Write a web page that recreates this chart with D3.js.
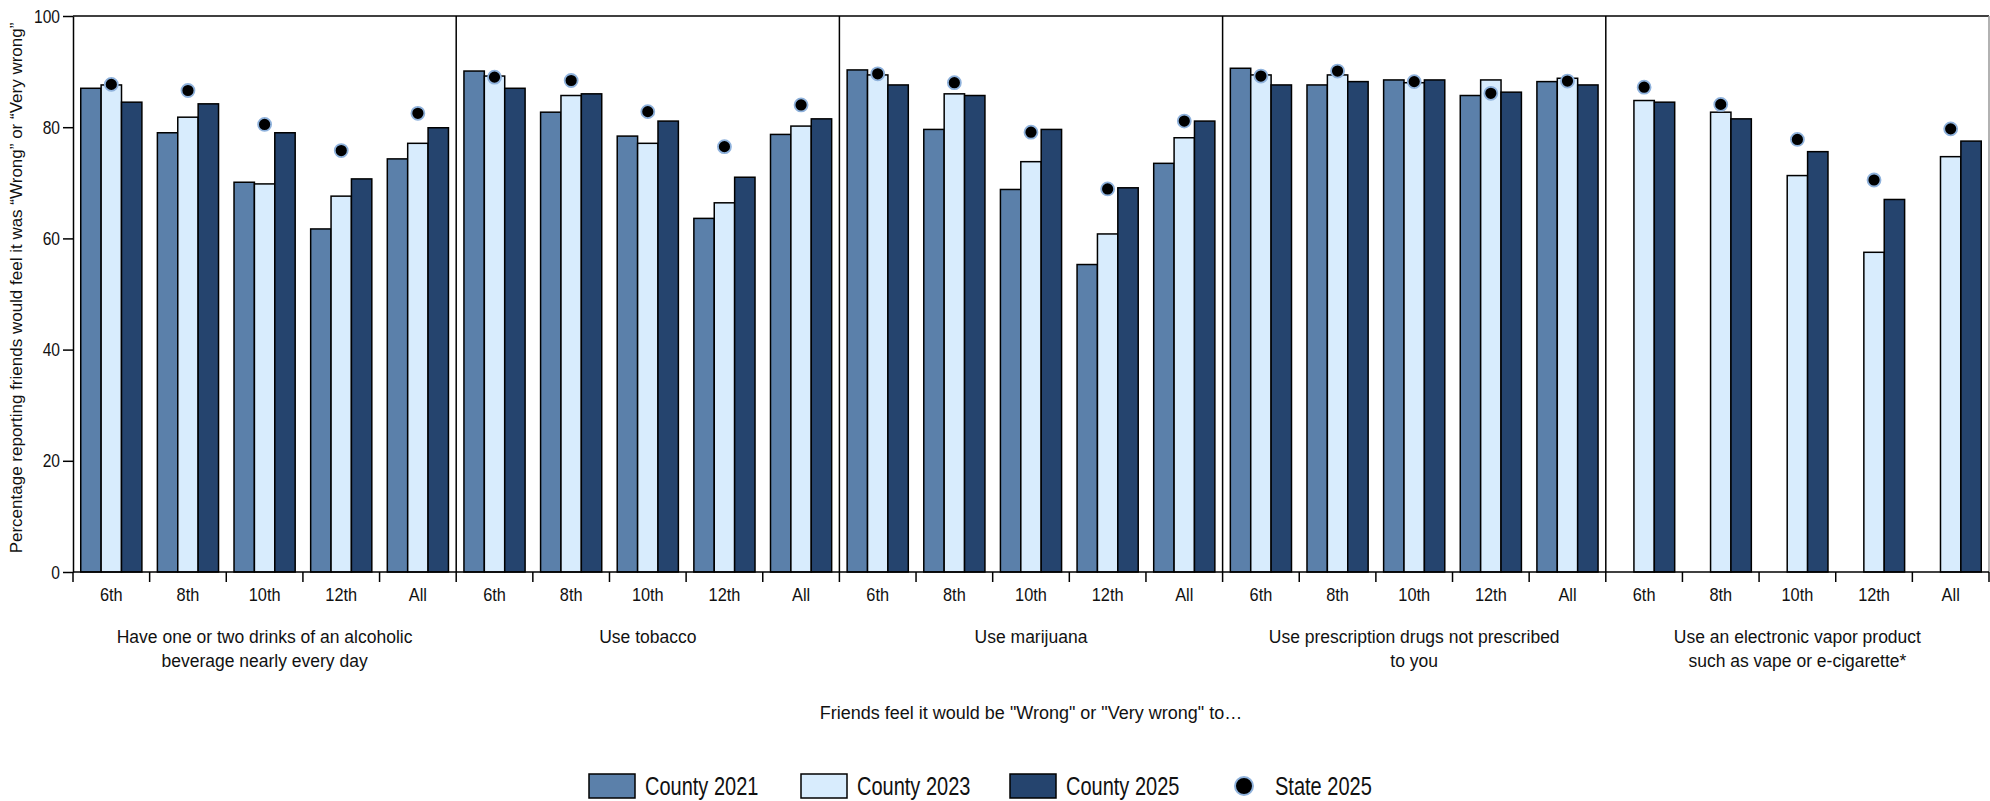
<!DOCTYPE html>
<html>
<head>
<meta charset="utf-8">
<script src="https://cdn.jsdelivr.net/npm/d3@7"></script>
<style>
  body { margin: 0; background: #fff; }
  svg text { font-family: "Liberation Sans", Arial, sans-serif; fill: #111; }
</style>
</head>
<body>
<script>
const topics = [
    ["Have one or two drinks of an alcoholic", "beverage nearly every day"],
    ["Use tobacco"],
    ["Use marijuana"],
    ["Use prescription drugs not prescribed", "to you"],
    ["Use an electronic vapor product", "such as vape or e-cigarette*"]
];
const grades = ["6th", "8th", "10th", "12th", "All"];
const series = ["County 2021", "County 2023", "County 2025"];
const colors = ["#5b80aa", "#d8ecfd", "#25446e"];

// one row per topic, one value per grade
const county2021 = [
    [87.0, 79.0, 70.1, 61.7, 74.3],
    [90.1, 82.7, 78.4, 63.6, 78.7],
    [90.3, 79.6, 68.8, 55.3, 73.5],
    [90.6, 87.6, 88.5, 85.7, 88.2],
    [null, null, null, null, null]
];
const county2023 = [
    [87.6, 81.8, 69.8, 67.6, 77.1],
    [89.2, 85.7, 77.1, 66.4, 80.2],
    [89.4, 86.0, 73.8, 60.8, 78.1],
    [89.4, 89.4, 88.0, 88.5, 88.8],
    [84.8, 82.7, 71.3, 57.5, 74.7]
];
const county2025 = [
    [84.5, 84.2, 79.0, 70.7, 79.9],
    [87.0, 86.0, 81.1, 71.0, 81.5],
    [87.6, 85.7, 79.6, 69.1, 81.1],
    [87.6, 88.2, 88.5, 86.3, 87.6],
    [84.5, 81.5, 75.6, 67.0, 77.5]
];
const state2025 = [
    [87.7, 86.6, 80.5, 75.8, 82.5],
    [89.0, 88.4, 82.8, 76.5, 84.0],
    [89.6, 88.0, 79.1, 68.9, 81.1],
    [89.2, 90.1, 88.2, 86.1, 88.3],
    [87.2, 84.1, 77.8, 70.5, 79.7]
];
const yTicks = [0, 20, 40, 60, 80, 100];

const width = 1990, height = 801;
const plotLeft = 73, plotRight = 1989, plotTop = 16, plotBottom = 572;

// the original uses a condensed face, so squeeze text a bit
function squeeze(sel, k) {
    sel.each(function() {
        const len = this.getComputedTextLength();
        d3.select(this).attr("textLength", len * k).attr("lengthAdjust", "spacingAndGlyphs");
    });
}

const svg = d3.select("body").append("svg")
    .attr("width", width)
    .attr("height", height);

const x0 = d3.scaleBand().domain(d3.range(topics.length)).range([plotLeft, plotRight]);
const x1 = d3.scaleBand().domain(grades).range([0, x0.bandwidth()]);
const x2 = d3.scaleBand().domain(series).range([0, x1.bandwidth()]).paddingOuter(0.38);
const y = d3.scaleLinear().domain([0, 100]).range([plotBottom, plotTop]);

const rows = [];
topics.forEach(function(t, i) {
    grades.forEach(function(g, j) {
        rows.push({
            topic: i, grade: g,
            vals: [county2021[i][j], county2023[i][j], county2025[i][j]],
            state: state2025[i][j]
        });
    });
});

// bars
const grp = svg.append("g").selectAll("g")
    .data(rows).enter().append("g")
    .attr("transform", function(d) { return "translate(" + (x0(d.topic) + x1(d.grade)) + ",0)"; });

grp.selectAll("rect")
    .data(function(d) { return d.vals.map(function(v, k) { return {s: series[k], v: v, k: k}; }).filter(function(e) { return e.v != null; }); })
    .enter().append("rect")
    .attr("x", function(e) { return x2(e.s); })
    .attr("y", function(e) { return y(e.v); })
    .attr("width", x2.bandwidth())
    .attr("height", function(e) { return y(0) - y(e.v); })
    .attr("fill", function(e) { return colors[e.k]; })
    .attr("stroke", "#000")
    .attr("stroke-width", 1.5);

// state dots, over the middle bar
grp.append("circle")
    .attr("cx", x2("County 2023") + x2.bandwidth() / 2)
    .attr("cy", function(d) { return y(d.state); })
    .attr("r", 6.5)
    .attr("fill", "#000")
    .attr("stroke", "#8fb2dc")
    .attr("stroke-width", 1.8);

// frame: top line and panel dividers
svg.append("line")
    .attr("x1", plotLeft).attr("x2", plotRight)
    .attr("y1", plotTop).attr("y2", plotTop)
    .attr("stroke", "#000").attr("stroke-width", 1.5);

svg.append("g").selectAll("line")
    .data(d3.range(1, topics.length + 1))
    .enter().append("line")
    .attr("x1", function(i) { return i < topics.length ? x0(i) : plotRight; })
    .attr("x2", function(i) { return i < topics.length ? x0(i) : plotRight; })
    .attr("y1", plotTop).attr("y2", plotBottom)
    .attr("stroke", function(i) { return i < topics.length ? "#000" : "#999"; })
    .attr("stroke-width", 1.5);

// y axis
const yAxis = svg.append("g")
    .attr("transform", "translate(" + plotLeft + ",0)")
    .call(d3.axisLeft(y).tickValues(yTicks).tickSize(10).tickSizeOuter(0).tickPadding(3));
yAxis.selectAll("text").style("font-size", "19px").call(squeeze, 0.82);
yAxis.selectAll("line, path").attr("stroke", "#000").attr("stroke-width", 1.5);

// baseline
svg.append("line")
    .attr("x1", plotLeft).attr("x2", plotRight)
    .attr("y1", plotBottom).attr("y2", plotBottom)
    .attr("stroke", "#000").attr("stroke-width", 1.5);

// category boundary ticks under the baseline
const bounds = [];
topics.forEach(function(t, i) {
    grades.forEach(function(g) { bounds.push(x0(i) + x1(g)); });
});
bounds.push(plotRight);
svg.append("g").selectAll("line")
    .data(bounds).enter().append("line")
    .attr("x1", function(d) { return d; }).attr("x2", function(d) { return d; })
    .attr("y1", plotBottom).attr("y2", plotBottom + 10)
    .attr("stroke", "#000").attr("stroke-width", 1.5);

// grade labels + topic labels
topics.forEach(function(t, i) {
    const ax = svg.append("g")
        .attr("transform", "translate(" + x0(i) + "," + plotBottom + ")")
        .call(d3.axisBottom(x1).tickSize(0).tickPadding(16));
    ax.select(".domain").remove();
    ax.selectAll("text").style("font-size", "19px").call(squeeze, 0.86);

    svg.append("text")
        .attr("x", x0(i) + x0.bandwidth() / 2)
        .attr("y", 643)
        .attr("text-anchor", "middle")
        .style("font-size", "17.5px")
        .selectAll("tspan")
        .data(t).enter().append("tspan")
        .attr("x", x0(i) + x0.bandwidth() / 2)
        .attr("dy", function(d, k) { return k === 0 ? 0 : 24; })
        .text(function(d) { return d; });
});

// axis titles
svg.append("text")
    .attr("x", (plotLeft + plotRight) / 2)
    .attr("y", 719)
    .attr("text-anchor", "middle")
    .style("font-size", "18px")
    .text("Friends feel it would be \"Wrong\" or \"Very wrong\" to\u2026");

svg.append("text")
    .attr("transform", "translate(22,288) rotate(-90)")
    .attr("text-anchor", "middle")
    .style("font-size", "17px")
    .text("Percentage reporting friends would feel it was \u201cWrong\u201d or \u201cVery wrong\u201d");

// legend
const legend = svg.append("g").attr("transform", "translate(0,786)");
const legX = [589, 801, 1010];
series.forEach(function(s, k) {
    legend.append("rect")
        .attr("x", legX[k]).attr("y", -12)
        .attr("width", 46).attr("height", 24)
        .attr("fill", colors[k])
        .attr("stroke", "#000").attr("stroke-width", 1.5);
    legend.append("text")
        .attr("x", legX[k] + 56).attr("y", 0)
        .attr("dy", "0.36em")
        .style("font-size", "25px")
        .text(s)
        .call(squeeze, 0.8);
});
legend.append("circle")
    .attr("cx", 1244).attr("cy", 0).attr("r", 9)
    .attr("fill", "#000").attr("stroke", "#8fb2dc").attr("stroke-width", 2);
legend.append("text")
    .attr("x", 1275).attr("y", 0)
    .attr("dy", "0.36em")
    .style("font-size", "25px")
    .text("State 2025")
    .call(squeeze, 0.8);
</script>
</body>
</html>
